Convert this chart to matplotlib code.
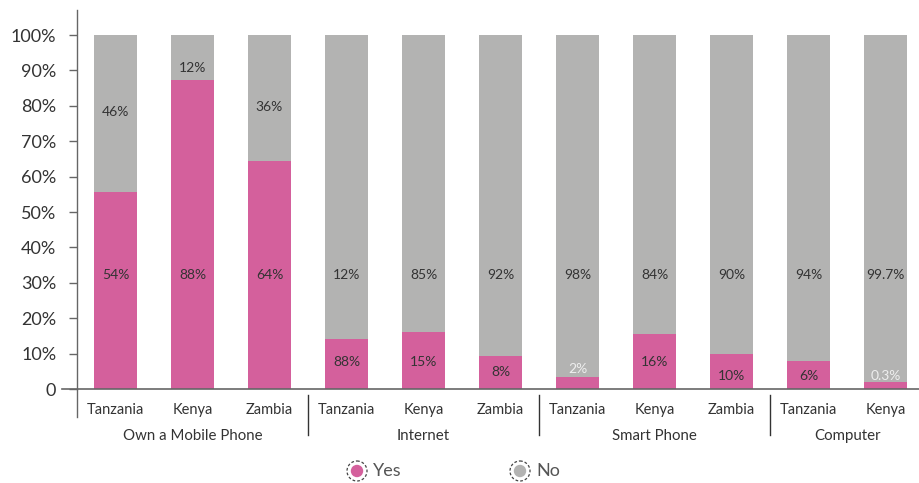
import matplotlib
matplotlib.use("Agg")
import matplotlib.pyplot as plt
from matplotlib.patches import Circle

plt.rcParams['font.family'] = ['Lato', 'DejaVu Sans']

countries = ["Tanzania", "Kenya", "Zambia",
             "Tanzania", "Kenya", "Zambia",
             "Tanzania", "Kenya", "Zambia",
             "Tanzania", "Kenya"]
groups = ["Own a Mobile Phone", "Internet", "Smart Phone", "Computer"]
group_sizes = [3, 3, 3, 2]

# bar heights as drawn (percent)
yes_values = [55.6, 87.3, 64.3, 14.2, 16.1, 9.3, 3.4, 15.6, 9.9, 7.9, 2.0]
no_values = [100 - v for v in yes_values]

# label texts as printed on the chart
yes_labels = ["54%", "88%", "64%", "88%", "15%", "8%", "2%", "16%", "10%", "6%", "0.3%"]
no_labels = ["46%", "12%", "36%", "12%", "85%", "92%", "98%", "84%", "90%", "94%", "99.7%"]
# where the printed labels sit (percent scale)
yes_label_y = [32.3, 32.3, 32.3, 7.6, 7.6, 4.8, 5.7, 7.6, 3.7, 3.7, 3.7]
no_label_y = [78.2, 90.7, 79.6, 32.3, 32.3, 32.3, 32.3, 32.3, 32.3, 32.3, 32.3]
yes_label_colors = ["#333333"] * 6 + ["#eeeeee"] + ["#333333"] * 3 + ["#eeeeee"]

PINK = "#D4609C"
GRAY = "#B3B3B2"

W, H = 919, 483
fig = plt.figure(figsize=(W / 100, H / 100), dpi=100)
left_px, base_px, top_px = 77, 389, 10
ax = fig.add_axes([left_px / W, (H - base_px) / H, 847 / W, (base_px - top_px) / H])

x = list(range(len(countries)))
ax.bar(x, yes_values, width=0.56, color=PINK, zorder=2)
ax.bar(x, no_values, width=0.56, bottom=yes_values, color=GRAY, zorder=2)

ymax = (base_px - top_px) / 354 * 100
ax.set_xlim(-0.5, len(countries) - 0.5)
ax.set_ylim(0, ymax)

for i in x:
    ax.text(i, yes_label_y[i], yes_labels[i], ha="center", va="center",
            fontsize=10, color=yes_label_colors[i], zorder=3)
    ax.text(i, no_label_y[i], no_labels[i], ha="center", va="center",
            fontsize=10, color="#333333", zorder=3)

for s in ["top", "right", "bottom"]:
    ax.spines[s].set_visible(False)
ax.spines["left"].set_color("#666666")
ax.spines["left"].set_linewidth(1.0)

yt = list(range(0, 101, 10))
ax.set_yticks(yt)
ax.set_yticklabels(["0"] + [f"{v}%" for v in yt[1:]])
ax.tick_params(axis="y", length=6, width=1, color="#666666", pad=9,
               labelsize=13, labelcolor="#333333")
ax.set_xticks([])

# baseline extended left, spine extended down
ax_h_px = base_px - top_px
ax.plot([(62 - left_px) / 847, 1], [0, 0], transform=ax.transAxes,
        color="#666666", lw=1.2, clip_on=False, zorder=4)
ax.plot([0, 0], [0, -(417 - base_px) / ax_h_px], transform=ax.transAxes,
        color="#666666", lw=1.0, clip_on=False)

# category labels
for i, c in enumerate(countries):
    ax.text(i, -(410 - base_px) / 354 * 100, c, ha="center", va="center",
            fontsize=10.5, color="#333333", clip_on=False)

# group labels and separators
start = 0
for gi, (g, n) in enumerate(zip(groups, group_sizes)):
    center = start + (n - 1) / 2
    ax.text(center, -(436 - base_px) / 354 * 100, g, ha="center", va="center",
            fontsize=10.8, color="#333333", clip_on=False)
    if gi > 0:
        xs = start - 0.5
        ax.plot([xs, xs], [-(395 - base_px) / 354 * 100, -(435 - base_px) / 354 * 100],
                color="#333333", lw=1.0, clip_on=False)
    start += n

# legend in a pixel-space overlay
lax = fig.add_axes([0, 0, 1, 1], zorder=5)
lax.set_xlim(0, W)
lax.set_ylim(H, 0)
lax.axis("off")

def legend_item(xc, color, label):
    yc = 471
    lax.add_patch(Circle((xc, yc), 6.2, facecolor=color, edgecolor="none"))
    lax.add_patch(Circle((xc, yc), 10, facecolor="none", edgecolor="#444444",
                         linewidth=0.9, linestyle=(0, (2.2, 1.6))))
    lax.text(xc + 16, yc, label, ha="left", va="center",
             fontsize=13, color="#555555")

legend_item(357, PINK, "Yes")
legend_item(520, GRAY, "No")

fig.savefig("out.png", dpi=100)
